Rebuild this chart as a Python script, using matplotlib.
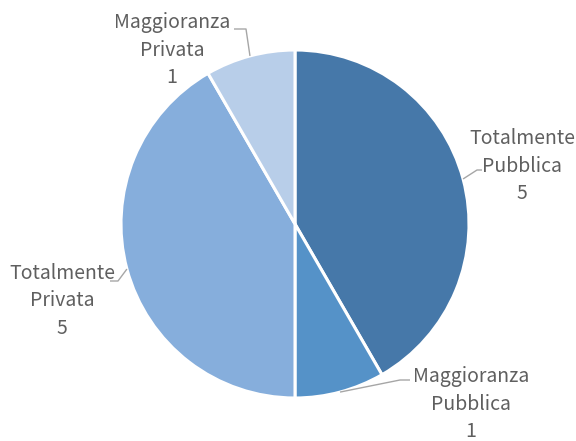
import matplotlib
matplotlib.use("Agg")
import matplotlib.pyplot as plt
import numpy as np

categories = ["Totalmente\nPubblica", "Maggioranza\nPubblica", "Totalmente\nPrivata", "Maggioranza\nPrivata"]
values = [5, 1, 5, 1]
colors = ["#4678A9", "#5592C8", "#86AEDC", "#B8CEE9"]

W, H = 576, 441
fig = plt.figure(figsize=(W / 100, H / 100), dpi=100)
ax = fig.add_axes([0, 0, 1, 1])

cx, cy, R = 295, H - 224, 174
ax.pie(values, colors=colors, startangle=90, counterclock=False, center=(cx, cy), radius=R,
       wedgeprops=dict(edgecolor="white", linewidth=2.2), frame=True)
ax.set_xlim(0, W)
ax.set_ylim(0, H)
ax.set_aspect("equal")
ax.axis("off")

# label centers (pixel coords, y from top) and leader elbows
label_pos = [(522, 166), (471, 404), (62, 301), (172, 50)]
elbows = [[(477, 170), (482, 170)],
          [(400, 380), (410, 380)],
          [(118, 281), (110, 281)],
          [(246, 29), (234, 29)]]

total = sum(values)
start = 90.0
for i, v in enumerate(values):
    span = 360.0 * v / total
    mid = np.deg2rad(start - span / 2)
    start -= span
    ex, ey = cx + R * np.cos(mid), cy + R * np.sin(mid)
    xs = [ex] + [p[0] for p in elbows[i]]
    ys = [ey] + [H - p[1] for p in elbows[i]]
    ax.plot(xs, ys, color="#A6A6A6", lw=1.0, solid_capstyle="butt")
    lx, ly = label_pos[i]
    ax.text(lx, H - ly, f"{categories[i]}\n{v}", ha="center", va="center",
            fontsize=14, color="#5F5F5F", linespacing=1.42,
            family=["Noto Sans CJK SC", "DejaVu Sans"])

fig.savefig("out.png", dpi=100)
